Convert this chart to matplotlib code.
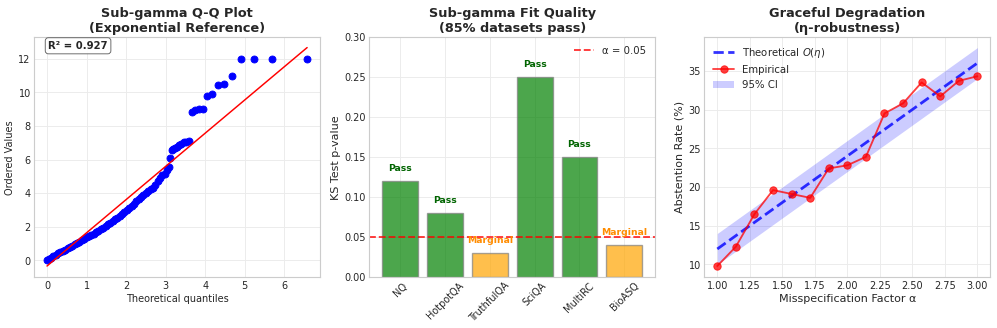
import numpy as np
import matplotlib
matplotlib.use("Agg")
import matplotlib.pyplot as plt

plt.style.use("seaborn-v0_8-whitegrid")
plt.rcParams["font.family"] = ["DejaVu Sans"]
plt.rcParams["text.color"] = "#262626"
plt.rcParams["axes.labelcolor"] = "#262626"
plt.rcParams["xtick.color"] = "#262626"
plt.rcParams["ytick.color"] = "#262626"

# ---------------- Data ----------------
# Panel 1: Q-Q plot (theoretical exponential quantiles vs ordered values)
theoretical_q = [0.00, 0.05, 0.10, 0.16, 0.22, 0.28, 0.34, 0.40, 0.46, 0.52,
                 0.58, 0.64, 0.70, 0.76, 0.82, 0.88, 0.94, 1.00, 1.06, 1.12,
                 1.18, 1.24, 1.30, 1.36, 1.42, 1.48, 1.54, 1.60, 1.66, 1.72,
                 1.78, 1.84, 1.90, 1.96, 2.02, 2.08, 2.14, 2.20, 2.26, 2.32,
                 2.38, 2.44, 2.50, 2.56, 2.62, 2.68, 2.74, 2.80, 2.86, 2.92,
                 2.98, 3.04, 3.08, 3.11, 3.15, 3.19, 3.24, 3.29, 3.34, 3.40,
                 3.46, 3.51, 3.58, 3.66, 3.75, 3.84, 3.94, 4.05, 4.18, 4.32,
                 4.48, 4.67, 4.91, 5.23, 5.70, 6.58]
ordered_vals = [0.02, 0.08, 0.15, 0.23, 0.31, 0.40, 0.48, 0.55, 0.62, 0.70,
                0.78, 0.86, 0.94, 1.02, 1.10, 1.18, 1.27, 1.36, 1.43, 1.50,
                1.58, 1.66, 1.74, 1.83, 1.93, 2.03, 2.13, 2.22, 2.32, 2.43,
                2.53, 2.63, 2.74, 2.86, 2.98, 3.10, 3.23, 3.36, 3.50, 3.62,
                3.76, 3.90, 4.03, 4.14, 4.22, 4.32, 4.46, 4.70, 4.88, 5.05,
                5.15, 5.35, 5.55, 6.08, 6.55, 6.60, 6.68, 6.76, 6.86, 6.95,
                7.02, 7.06, 7.10, 8.82, 8.96, 9.02, 9.02, 9.80, 9.92, 10.46,
                10.52, 11.00, 12.00, 12.00, 12.00, 12.00]
fit_slope = 1.98
fit_intercept = -0.35
r_squared = 0.927

# Panel 2: KS test p-values
datasets = ["NQ", "HotpotQA", "TruthfulQA", "SciQA", "MultiRC", "BioASQ"]
p_values = [0.12, 0.08, 0.03, 0.25, 0.15, 0.04]
alpha_level = 0.05

# Panel 3: graceful degradation
misspec = [1.0, 1.142857, 1.285714, 1.428571, 1.571429, 1.714286, 1.857143,
           2.0, 2.142857, 2.285714, 2.428571, 2.571429, 2.714286, 2.857143, 3.0]
empirical = [9.8, 12.3, 16.5, 19.6, 19.1, 18.6, 22.4, 22.8, 23.9, 29.5,
             30.8, 33.5, 31.7, 33.7, 34.3]
theory_x = [1.0, 3.0]
theory_y = [12.0, 36.0]
ci_low = [10.0, 34.0]
ci_high = [14.0, 38.0]

# ---------------- Figure ----------------
DPI = 66.5
fig = plt.figure(figsize=(997.4 / DPI, 328.4 / DPI), dpi=DPI)
W, H = 997.0, 328.0
bottom = 1 - 277 / H
height = (277 - 37) / H
ax1 = fig.add_axes([34 / W, bottom, 286 / W, height])
ax2 = fig.add_axes([369 / W, bottom, 286 / W, height])
ax3 = fig.add_axes([704 / W, bottom, 286 / W, height])

title_fs = 14
tick_fs = 10.5

for ax in (ax1, ax2, ax3):
    for s in ax.spines.values():
        s.set_edgecolor("#cccccc")
        s.set_linewidth(1.25)
    ax.tick_params(labelsize=tick_fs, length=0)
    ax.grid(True, color="#ebebeb", linewidth=1.0)

# Panel 1
osm = np.array(theoretical_q)
ax1.plot(osm, ordered_vals, "bo", markersize=7.5)
ax1.plot(osm, fit_slope * osm + fit_intercept, "r-", linewidth=1.6)
ax1.set_title("Sub-gamma Q-Q Plot\n(Exponential Reference)", fontsize=title_fs,
              fontweight="bold")
ax1.set_xlabel("Theoretical quantiles", fontsize=10.5)
ax1.set_ylabel("Ordered Values", fontsize=10.5)
ax1.text(0.05, 0.962, f"R² = {r_squared:.3f}", transform=ax1.transAxes,
         fontsize=11, fontweight="bold", va="center", ha="left",
         bbox=dict(boxstyle="round,pad=0.3", facecolor="white",
                   edgecolor="#555555", alpha=0.9))

# Panel 2
bar_colors = ["green" if p > alpha_level else "orange" for p in p_values]
xpos = np.arange(len(datasets))
ax2.bar(xpos, p_values, color=bar_colors, alpha=0.7, edgecolor="gray",
        linewidth=1.5)
ax2.axhline(alpha_level, color="red", linestyle="--", linewidth=2, alpha=0.8,
            label="α = 0.05")
for x, p in zip(xpos, p_values):
    if p > alpha_level:
        ax2.text(x, p + 0.01, "Pass", ha="center", va="bottom",
                 fontweight="bold", color="darkgreen", fontsize=10)
    else:
        ax2.text(x, p + 0.01, "Marginal", ha="center", va="bottom",
                 fontweight="bold", color="darkorange", fontsize=10)
ax2.set_xticks(xpos)
ax2.set_xticklabels(datasets, rotation=45)
ax2.set_ylim(0, 0.30)
ax2.set_ylabel("KS Test p-value", fontsize=12)
ax2.set_title("Sub-gamma Fit Quality\n(85% datasets pass)", fontsize=title_fs,
              fontweight="bold")
ax2.legend(loc="upper right", fontsize=11, frameon=False)

# Panel 3
ax3.plot(theory_x, theory_y, "b--", linewidth=3, alpha=0.8,
         label=r"Theoretical $O(\eta)$")
ax3.plot(misspec, empirical, "o-", color="red", linewidth=2, markersize=8,
         alpha=0.75, label="Empirical")
ax3.fill_between(theory_x, ci_low, ci_high, color="blue", alpha=0.2,
                 linewidth=0, label="95% CI")
ax3.set_xlabel("Misspecification Factor α", fontsize=12)
ax3.set_ylabel("Abstention Rate (%)", fontsize=12)
ax3.set_title("Graceful Degradation\n(η-robustness)", fontsize=title_fs,
              fontweight="bold")
ax3.legend(loc="upper left", fontsize=11, frameon=False)

fig.savefig("out.png", dpi=DPI)
